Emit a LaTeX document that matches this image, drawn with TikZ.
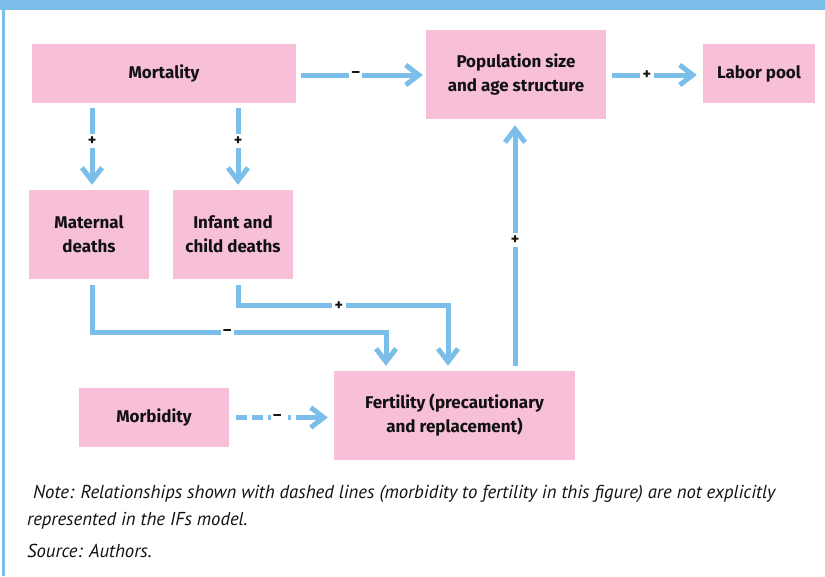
\documentclass[tikz,border=0pt]{standalone}
\usepackage{fontspec}
\setmainfont{Fira Sans}
\newfontfamily\notefont{PT Sans}
\usetikzlibrary{arrows.meta,calc}

\definecolor{boxpink}{HTML}{F7BFD8}
\definecolor{linkblue}{HTML}{7BBEE9}
\definecolor{inkdark}{HTML}{111111}

\tikzset{
  factor/.style={fill=boxpink, draw=none, align=center, text=inkdark,
    font=\bfseries\fontsize{17}{24}\selectfont, inner sep=0pt},
  link/.style={draw=linkblue, line width=5pt,
    -{Straight Barb[length=13pt,width=20pt,line width=5pt]}},
  sign/.style={fill=white, text=inkdark, inner sep=2.5pt,
    font=\bfseries\fontsize{16}{16}\selectfont},
  notetext/.style={anchor=base west, text=inkdark, inner sep=0pt,
    font=\notefont\itshape\fontsize{18.7}{18.7}\selectfont}
}

\begin{document}
\begin{tikzpicture}[x=1pt,y=-1pt]
\useasboundingbox (0,0) rectangle (825,576);

% frame: top band and left rule
\fill[linkblue] (0,0) rectangle (825,10);
\fill[linkblue] (2,0) rectangle (5,576);

% factors
\node[factor, minimum width=264pt, minimum height=59pt] (mort) at (164,73.5) {Mortality};
\node[factor, minimum width=120pt, minimum height=89pt] (mat) at (89,234.5) {Maternal\\deaths};
\node[factor, minimum width=120pt, minimum height=89pt] (inf) at (233,234.5) {Infant and\\child deaths};
\node[factor, minimum width=180pt, minimum height=89pt] (pop) at (516,74.5) {Population size\\and age structure};
\node[factor, minimum width=112pt, minimum height=59pt] (lab) at (759,73.5) {Labor pool};
\node[factor, minimum width=241pt, minimum height=89pt] (fert) at (454.5,415.5) {Fertility (precautionary\\and replacement)};
\node[factor, minimum width=150pt, minimum height=59pt] (morb) at (154,417.5) {Morbidity};

% anchor points for the links
\coordinate (mx) at ([xshift=3pt]mat.north);
\coordinate (ix) at ([xshift=5pt]inf.north);
\coordinate (fa) at ([xshift=-68.5pt]fert.north);
\coordinate (fb) at ([xshift=-6.5pt]fert.north);
\coordinate (fc) at ([xshift=60.5pt]fert.north);
\coordinate (ja) at ($(fa)+(0,-38)$);
\coordinate (jb) at ($(fb)+(0,-65)$);

% links
\draw[link, shorten <=5pt, shorten >=3pt] ([yshift=-1.5pt]mort.east) -- node[sign, pos=0.46]{–} ([yshift=-1.5pt]mort.east -| pop.west);
\draw[link, shorten <=6pt, shorten >=6pt] ([yshift=-1.5pt]mort.east -| pop.east) -- node[sign, pos=0.42]{+} ([yshift=-1.5pt]lab.west);
\draw[link, shorten <=5pt, shorten >=5pt] (mx |- mort.south) -- node[sign, pos=0.44]{+} (mx);
\draw[link, shorten <=5pt, shorten >=5pt] (ix |- mort.south) -- node[sign, pos=0.44]{+} (ix);
\draw[link, shorten <=6pt, shorten >=5pt] (mx |- mat.south) |- node[sign, pos=0.73]{–} (ja) -- (fa);
\draw[link, shorten <=6pt, shorten >=5pt] (ix |- inf.south) |- node[sign, pos=0.74]{+} (jb) -- (fb);
\draw[link, shorten <=5pt, shorten >=6pt] (fc) -- node[sign, pos=0.52]{+} (fc |- pop.south);
\draw[link, shorten <=7pt, shorten >=6pt,
      dash pattern=on 11pt off 5pt on 11pt off 5pt on 3pt off 17pt on 3pt off 5pt on 30pt]
  (morb.east) -- node[sign, fill=none, pos=0.46]{–} (morb.east -| fert.west);

% note and source
\node[notetext] (note1) at (33,498) {Note: Relationships shown with dashed lines (morbidity to fertility in this figure) are not explicitly};
\node[notetext] (note2) at (27,525) {represented in the IFs model.};
\node[notetext] (src) at (27,557) {Source: Authors.};
\end{tikzpicture}
\end{document}
